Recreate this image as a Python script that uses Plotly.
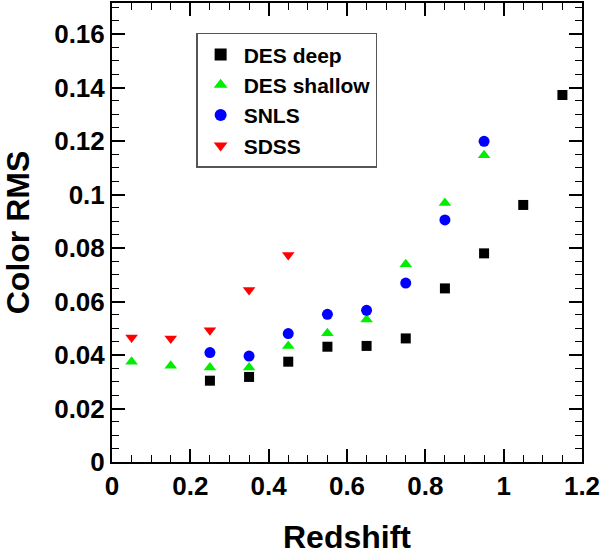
import plotly.graph_objects as go

# Bin centres in redshift
z_deep = [0.25, 0.35, 0.45, 0.55, 0.65, 0.75, 0.85, 0.95, 1.05, 1.15]
rms_deep = [0.0304, 0.0318, 0.0375, 0.0431, 0.0434, 0.0462, 0.0649, 0.0780, 0.0961, 0.1372]

z_shallow = [0.05, 0.15, 0.25, 0.35, 0.45, 0.55, 0.65, 0.75, 0.85, 0.95]
rms_shallow = [0.0375, 0.0360, 0.0353, 0.0353, 0.0434, 0.0481, 0.0533, 0.0739, 0.0968, 0.1147]

z_snls = [0.25, 0.35, 0.45, 0.55, 0.65, 0.75, 0.85, 0.95]
rms_snls = [0.0409, 0.0396, 0.0480, 0.0552, 0.0567, 0.0669, 0.0905, 0.1199]

z_sdss = [0.05, 0.15, 0.25, 0.35, 0.45]
rms_sdss = [0.0465, 0.0462, 0.0493, 0.0643, 0.0774]

x_ticks = [0, 0.2, 0.4, 0.6, 0.8, 1.0, 1.2]
x_labels = ["0", "0.2", "0.4", "0.6", "0.8", "1", "1.2"]
y_ticks = [0, 0.02, 0.04, 0.06, 0.08, 0.10, 0.12, 0.14, 0.16]
y_labels = ["0", "0.02", "0.04", "0.06", "0.08", "0.1", "0.12", "0.14", "0.16"]

FUENTE = "Liberation Sans"

series = [
    ("DES deep", z_deep, rms_deep, "square", "black", 10),
    ("DES shallow", z_shallow, rms_shallow, "triangle-up", "#00ee00", 11),
    ("SNLS", z_snls, rms_snls, "circle", "blue", 11),
    ("SDSS", z_sdss, rms_sdss, "triangle-down", "red", 11),
]

fig = go.Figure()
for nombre, xs, ys, simbolo, color, tam in series:
    fig.add_trace(go.Scatter(
        x=xs, y=ys, mode="markers", name=nombre,
        marker=dict(symbol=simbolo, color=color, size=tam, line=dict(width=0)),
    ))

eje_comun = dict(
    showgrid=False, zeroline=False, automargin=False,
    showline=True, linecolor="black", linewidth=2, mirror="ticks",
    ticks="inside", ticklen=13, tickwidth=1.5, tickcolor="black",
    tickfont=dict(family=FUENTE, size=26, color="black", weight="bold"),
)

fig.update_xaxes(
    range=[0, 1.2], tickvals=x_ticks, ticktext=x_labels,
    minor=dict(dtick=0.05, ticks="inside", ticklen=7, tickcolor="black", tickwidth=1),
    **eje_comun,
)
fig.update_yaxes(
    range=[0, 0.1716], tickvals=y_ticks, ticktext=y_labels,
    minor=dict(dtick=0.005, ticks="inside", ticklen=7, tickcolor="black", tickwidth=1),
    title=dict(text="<b>Color RMS</b>", font=dict(family=FUENTE, size=32, color="black"), standoff=18),
    **eje_comun,
)

# titulo del eje x como anotacion (el standoff queda limitado por el margen)
fig.add_annotation(
    text="<b>Redshift</b>",
    xref="paper", yref="paper", x=0.5, y=0,
    xanchor="center", yanchor="top", yshift=-55,
    showarrow=False,
    font=dict(family=FUENTE, size=32, color="black"),
)

fig.update_layout(
    width=608, height=552,
    margin=dict(l=112, r=26, t=3, b=90),
    plot_bgcolor="white", paper_bgcolor="white",
    legend=dict(
        x=0.179, y=0.935, xanchor="left", yanchor="top",
        bordercolor="#555555", borderwidth=1.5, bgcolor="white",
        font=dict(family=FUENTE, size=21, color="black", weight="bold"),
        itemsizing="constant", itemwidth=36,
    ),
)

# el navegador agrega 8px de margen al body; lo quitamos
fig.write_html(
    "out.html",
    config={"displayModeBar": False},
    post_script="document.body.style.margin='0';",
)
